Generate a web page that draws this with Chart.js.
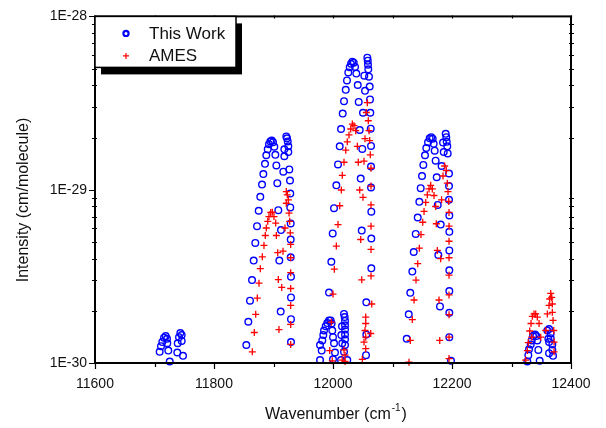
<!DOCTYPE html>
<html lang="en">
<head>
    <meta charset="UTF-8">
    <title>Intensity vs Wavenumber</title>
    <style>
        html, body {
            margin: 0;
            padding: 0;
            background: #ffffff;
        }
        #wrap {
            position: relative;
            width: 606px;
            height: 428px;
        }
    </style>
</head>
<body>
    <div id="wrap">
        <canvas id="lineChart" width="606" height="428"></canvas>
    </div>

    <script src="https://cdn.jsdelivr.net/npm/chart.js"></script>

    <script>
        // values (wavenumber in cm-1, intensity in cm/molecule)
        const thisWorkWn = [
            11708.7, 11710.9, 11713.1, 11716.0, 11718.8, 11721.0, 11721.5, 11723.2, 11725.6,
            11738.3, 11739.0, 11741.2, 11743.4, 11745.7, 11745.7, 11747.9,
            11854.3, 11857.7, 11860.5, 11863.9, 11866.7, 11869.4, 11872.3, 11875.1, 11877.8, 11880.7,
            11882.9, 11885.7, 11887.9, 11890.3, 11892.4, 11894.6, 11897.0, 11899.2, 11901.4, 11903.1,
            11904.8, 11906.4, 11908.1, 11912.6, 11909.8, 11912.1,
            11921.5, 11922.7, 11923.9, 11924.9, 11924.9, 11918.2, 11918.2, 11916.5, 11926.6, 11927.7,
            11928.2, 11928.2, 11928.9, 11928.9, 11928.9, 11929.4, 11929.4, 11929.4, 11929.4,
            11978.2, 11981.0, 11978.2, 11982.0, 11983.7, 11984.9, 11987.7, 11990.4, 11993.3, 11996.1,
            11997.7, 11998.8, 12000.0, 12001.7, 12003.4, 12000.0,
            12018.5, 12019.6, 12020.2, 12020.2, 12020.2, 12020.2, 12020.2, 12020.2, 12018.5, 12015.6,
            12014.0, 12015.1, 12024.0, 12013.5,
            11993.3, 11997.2, 11999.5, 12001.7, 12005.6, 12008.4, 12011.3, 12013.5, 12016.3, 12018.5,
            12021.4, 12023.5, 12025.7, 12028.1, 12030.3, 12032.5, 12034.8, 12037.0, 12039.2, 12041.6,
            12043.2, 12044.9, 12046.6, 12048.3, 12056.0, 12056.0, 12055.5,
            12057.7, 12058.4, 12058.8, 12059.3, 12060.5, 12052.6, 12053.8, 12061.7, 12062.2, 12062.7,
            12050.4, 12049.2, 12063.4, 12063.9, 12063.9, 12063.9, 12064.4, 12064.4, 12064.4,
            12123.9, 12127.3, 12129.9, 12133.3, 12135.7, 12139.0, 12142.4, 12145.1, 12147.4, 12149.6,
            12151.8, 12154.6, 12156.8, 12159.7, 12162.5, 12165.2, 12167.5, 12169.2, 12170.9, 12172.5,
            12174.3, 12176.0, 12181.0, 12177.0, 12179.8, 12198.3,
            12189.4, 12190.4, 12191.1, 12192.1, 12184.9, 12186.1, 12192.8, 12182.5, 12195.0, 12195.0,
            12195.0, 12195.5, 12195.5, 12195.5, 12195.5, 12195.5, 12195.5, 12195.5,
            12326.6, 12328.3, 12329.4, 12332.3, 12334.0, 12336.2, 12339.5, 12341.7, 12343.4, 12345.1,
            12347.4, 12360.2, 12363.1, 12365.9, 12365.9, 12363.1, 12368.6, 12368.6, 12369.8, 12363.1,
            12361.9
        ];
        const thisWorkInt = [
            1.16e-30, 1.25e-30, 1.32e-30, 1.40e-30, 1.43e-30, 1.38e-30, 1.30e-30, 1.18e-30, 1.02e-30,
            1.15e-30, 1.30e-30, 1.41e-30, 1.49e-30, 1.45e-30, 1.34e-30, 1.10e-30,
            1.27e-30, 1.73e-30, 2.29e-30, 3.01e-30, 3.90e-30, 4.93e-30, 6.16e-30, 7.56e-30, 9.10e-30, 1.07e-29,
            1.23e-29, 1.41e-29, 1.58e-29, 1.71e-29, 1.83e-29, 1.90e-29, 1.92e-29, 1.88e-29, 1.77e-29, 1.59e-29,
            1.38e-29, 1.09e-29, 7.62e-30, 5.85e-30, 3.90e-30, 1.98e-30,
            2.03e-29, 1.98e-29, 1.90e-29, 1.78e-29, 1.65e-29, 1.71e-29, 1.56e-29, 1.27e-29, 1.31e-29, 1.13e-29,
            9.50e-30, 7.90e-30, 6.39e-30, 5.16e-30, 4.07e-30, 3.15e-30, 2.39e-30, 1.79e-30, 1.32e-30,
            1.04e-30, 1.18e-30, 1.27e-30, 1.35e-30, 1.45e-30, 1.54e-30, 1.63e-30, 1.70e-30, 1.76e-30, 1.76e-30,
            1.69e-30, 1.54e-30, 1.41e-30, 1.30e-30, 1.15e-30, 1.05e-30,
            1.92e-30, 1.84e-30, 1.75e-30, 1.65e-30, 1.56e-30, 1.46e-30, 1.37e-30, 1.27e-30, 1.16e-30, 1.30e-30,
            1.45e-30, 1.63e-30, 1.04e-30, 1.04e-30,
            2.55e-30, 3.84e-30, 5.59e-30, 7.82e-30, 1.06e-29, 1.40e-29, 1.78e-29, 2.24e-29, 2.75e-29, 3.24e-29,
            3.77e-29, 4.27e-29, 4.75e-29, 5.09e-29, 5.33e-29, 5.48e-29, 5.41e-29, 5.11e-29, 4.68e-29, 4.02e-29,
            3.21e-29, 2.21e-29, 1.16e-29, 5.81e-30, 2.24e-30, 1.46e-30, 1.11e-30,
            5.78e-29, 5.55e-29, 5.26e-29, 4.95e-29, 4.49e-29, 4.55e-29, 3.72e-29, 3.94e-29, 3.32e-29, 2.78e-29,
            2.78e-29, 1.72e-29, 2.25e-29, 1.79e-29, 1.36e-29, 1.03e-29, 7.47e-30, 5.23e-30, 3.52e-30,
            1.38e-30, 1.91e-30, 2.54e-30, 3.37e-30, 4.37e-30, 5.56e-30, 6.91e-30, 8.51e-30, 1.02e-29, 1.20e-29,
            1.39e-29, 1.58e-29, 1.74e-29, 1.88e-29, 1.98e-29, 2.01e-29, 1.97e-29, 1.84e-29, 1.68e-29, 1.47e-29,
            1.18e-29, 8.17e-30, 6.29e-30, 4.20e-30, 2.12e-30, 1.03e-30,
            2.10e-29, 2.01e-29, 1.89e-29, 1.78e-29, 1.87e-29, 1.65e-29, 1.62e-29, 1.37e-29, 1.24e-29, 1.05e-29,
            8.74e-30, 7.10e-30, 5.71e-30, 4.46e-30, 3.43e-30, 2.60e-30, 1.95e-30, 1.41e-30,
            1.02e-30, 1.11e-30, 1.20e-30, 1.28e-30, 1.35e-30, 1.43e-30, 1.46e-30, 1.43e-30, 1.35e-30, 1.19e-30,
            1.03e-30, 1.54e-30, 1.57e-30, 1.48e-30, 1.39e-30, 1.32e-30, 1.28e-30, 1.19e-30, 1.10e-30, 1.14e-30,
            1.38e-30
        ];

        const amesWn = [
            11864.4, 11867.7, 11870.1, 11872.8, 11875.6, 11877.8, 11881.2, 11884.0, 11886.2, 11887.9,
            11890.3, 11892.4, 11895.3, 11898.0, 11900.8, 11903.7, 11904.8, 11907.1, 11908.1, 11913.8,
            11909.2, 11916.0, 11919.3, 11921.5, 11923.2, 11924.9, 11921.5, 11926.1, 11927.2, 11928.2,
            11928.9, 11928.9, 11928.9, 11928.9, 11928.9, 11928.9, 11928.9,
            11998.8, 11994.5, 11997.2, 12000.0, 12002.2, 12005.6, 12008.4, 12011.3, 12014.0, 12015.6,
            12018.5, 12021.4, 12024.0, 12026.9, 12029.8, 12032.5, 12035.3, 12038.2, 12040.9, 12042.5,
            12044.9, 12050.4, 12046.6, 12048.3, 12049.3, 12052.1, 12053.8, 12057.7, 12056.0, 12059.3,
            12060.5, 12061.7, 12062.7, 12063.9, 12063.9, 12063.9, 12063.9, 12063.9, 12063.9, 12065.1,
            12063.4,
            12018.5, 12020.2, 12015.6, 12020.2, 12055.0, 12055.0, 12053.8, 12055.0, 12052.1, 12055.0,
            12127.7, 12129.9, 12133.3, 12136.2, 12139.5, 12142.4, 12145.1, 12147.9, 12150.8, 12153.0,
            12155.8, 12158.5, 12161.4, 12164.2, 12166.9, 12169.8, 12172.5, 12173.6, 12175.3, 12181.0,
            12178.2, 12179.4, 12182.5, 12184.9, 12187.7, 12190.4, 12192.1, 12193.3, 12194.5, 12195.0,
            12195.0, 12195.0, 12195.0, 12195.0, 12195.0, 12195.0, 12195.0, 12195.0,
            12323.9, 12326.6, 12328.3, 12330.6, 12332.8, 12335.0, 12337.9, 12340.7, 12343.4, 12346.3,
            12349.1, 12357.5, 12360.2, 12363.1, 12364.2, 12365.9, 12367.6, 12368.6, 12368.6, 12369.8,
            12371.0, 12371.5, 12371.5, 12334.0
        ];
        const amesInt = [
            1.16e-30, 1.50e-30, 1.91e-30, 2.37e-30, 2.89e-30, 3.50e-30, 4.10e-30, 4.77e-30, 5.44e-30, 6.01e-30,
            6.57e-30, 7.00e-30, 7.39e-30, 7.42e-30, 7.00e-30, 6.42e-30, 5.44e-30, 4.33e-30, 3.03e-30, 2.73e-30,
            1.56e-30, 4.42e-30, 6.01e-30, 9.76e-30, 9.34e-30, 8.74e-30, 8.35e-30, 7.33e-30, 6.57e-30, 5.63e-30,
            4.83e-30, 4.05e-30, 3.32e-30, 2.69e-30, 2.15e-30, 1.67e-30, 1.28e-30,
            1.03e-30, 1.18e-30, 1.72e-30, 2.50e-30, 3.48e-30, 4.73e-30, 6.29e-30, 8.08e-30, 9.96e-30, 1.21e-29,
            1.44e-29, 1.69e-29, 1.89e-29, 2.07e-29, 2.24e-29, 2.39e-29, 2.34e-29, 2.19e-29, 1.78e-29, 1.44e-29,
            9.96e-30, 9.04e-30, 5.16e-30, 3.02e-30, 1.05e-30, 1.46e-29, 1.97e-29, 3.18e-29, 2.79e-29, 2.50e-29,
            2.19e-29, 1.92e-29, 1.59e-29, 1.33e-29, 1.05e-29, 8.17e-30, 6.16e-30, 4.52e-30, 3.18e-30, 2.19e-30,
            1.48e-30,
            1.19e-30, 1.11e-30, 1.04e-30, 1.02e-30, 1.84e-30, 1.69e-30, 1.54e-30, 1.41e-30, 1.32e-30, 1.21e-30,
            1.01e-30, 1.35e-30, 1.78e-30, 2.31e-30, 3.01e-30, 3.74e-30, 4.60e-30, 5.51e-30, 6.49e-30, 7.49e-30,
            8.45e-30, 9.34e-30, 1.01e-29, 1.06e-29, 1.01e-29, 9.26e-30, 8.00e-30, 6.36e-30, 4.46e-30, 4.00e-30,
            2.31e-30, 1.35e-30, 8.74e-30, 1.20e-29, 1.37e-29, 1.29e-29, 1.09e-29, 9.76e-30, 8.55e-30, 7.39e-30,
            6.16e-30, 5.04e-30, 4.05e-30, 3.21e-30, 2.47e-30, 1.90e-30, 1.41e-30, 1.06e-30,
            1.04e-30, 1.18e-30, 1.31e-30, 1.53e-30, 1.69e-30, 1.86e-30, 1.92e-30, 1.92e-30, 1.84e-30, 1.69e-30,
            1.41e-30, 1.54e-30, 1.92e-30, 2.15e-30, 2.34e-30, 2.52e-30, 2.39e-30, 2.19e-30, 1.96e-30, 1.76e-30,
            1.54e-30, 1.32e-30, 1.16e-30, 1.41e-30
        ];

        const xTicks = [11600, 11800, 12000, 12200, 12400];
        const yTicks = [1e-30, 1e-29, 1e-28];
        const yTickLabels = ['1E-30', '1E-29', '1E-28'];
        const seriesNames = ['This Work', 'AMES'];

        const FONT = 'Arial, "Liberation Sans", sans-serif';

        function toPoints(wn, val) {
            return wn.map((w, i) => ({ x: w, y: val[i] }));
        }

        // frame, tick marks, axis titles and the boxed legend
        const decorPlugin = {
            id: 'decor',
            afterDraw(chart) {
                const ctx = chart.ctx;
                const a = chart.chartArea;
                const xs = chart.scales.x;
                const ys = chart.scales.y;
                ctx.save();
                ctx.strokeStyle = '#000';

                // tick marks
                ctx.lineWidth = 1.2;
                ctx.beginPath();
                for (let v = 11600; v <= 12400; v += 100) {
                    const px = Math.round(xs.getPixelForValue(v)) + 0.5;
                    const big = v % 200 === 0;
                    ctx.moveTo(px, a.bottom);
                    ctx.lineTo(px, a.bottom + (big ? 6 : 4));
                    ctx.moveTo(px, a.top - 1);
                    ctx.lineTo(px, a.top + 2);
                }
                for (let d = -30; d < -28; d++) {
                    for (let m = 1; m <= 10; m++) {
                        const v = m * Math.pow(10, d);
                        const py = Math.round(ys.getPixelForValue(v)) + 0.5;
                        if (m === 1 || m === 10) {
                            ctx.moveTo(a.left - 6, py);
                            ctx.lineTo(a.left, py);
                        } else {
                            ctx.moveTo(a.left - 3, py);
                            ctx.lineTo(a.left + 2, py);
                            ctx.moveTo(a.right - 2, py);
                            ctx.lineTo(a.right + 3, py);
                        }
                    }
                }
                ctx.stroke();

                // frame
                ctx.lineWidth = 2;
                ctx.strokeRect(a.left, a.top, a.right - a.left, a.bottom - a.top);

                // axis titles
                ctx.fillStyle = '#111';
                ctx.textBaseline = 'alphabetic';
                const main = 'Wavenumber (cm';
                const sup = '-1';
                const close = ')';
                ctx.font = '16px ' + FONT;
                const w1 = ctx.measureText(main).width;
                const w3 = ctx.measureText(close).width;
                ctx.font = '10px ' + FONT;
                const w2 = ctx.measureText(sup).width;
                const tx = (a.left + a.right) / 2 - (w1 + w2 + w3) / 2 + 2;
                const ty = 419;
                ctx.font = '16px ' + FONT;
                ctx.fillText(main, tx, ty);
                ctx.font = '10px ' + FONT;
                ctx.fillText(sup, tx + w1 + 1, ty - 8);
                ctx.font = '16px ' + FONT;
                ctx.fillText(close, tx + w1 + w2 + 2, ty);

                ctx.save();
                ctx.translate(28, 200);
                ctx.rotate(-Math.PI / 2);
                ctx.textAlign = 'center';
                ctx.fillText('Intensity (cm/molecule)', 0, 0);
                ctx.restore();

                // legend with drop shadow
                const lx = a.left, ly = a.top, lw = 141, lh = 51;
                ctx.fillStyle = '#000';
                ctx.fillRect(lx + 6, ly + 7, lw, lh);
                ctx.fillStyle = '#fff';
                ctx.fillRect(lx, ly, lw, lh);
                ctx.lineWidth = 1.5;
                ctx.strokeStyle = '#000';
                ctx.strokeRect(lx, ly, lw, lh);

                ctx.strokeStyle = '#0000ff';
                ctx.lineWidth = 2.2;
                ctx.beginPath();
                ctx.arc(lx + 31, ly + 17, 2.6, 0, Math.PI * 2);
                ctx.stroke();

                ctx.strokeStyle = '#ff0000';
                ctx.lineWidth = 1.2;
                ctx.beginPath();
                ctx.moveTo(lx + 28, ly + 39.5);
                ctx.lineTo(lx + 34, ly + 39.5);
                ctx.moveTo(lx + 31, ly + 36.5);
                ctx.lineTo(lx + 31, ly + 42.5);
                ctx.stroke();

                ctx.fillStyle = '#111';
                ctx.font = '17px ' + FONT;
                ctx.textBaseline = 'middle';
                ctx.textAlign = 'left';
                ctx.fillText(seriesNames[0], lx + 54, ly + 18);
                ctx.fillText(seriesNames[1], lx + 54, ly + 40);
                ctx.restore();
            }
        };

        const ctx = document.getElementById('lineChart').getContext('2d');
        const chart = new Chart(ctx, {
            type: 'scatter',
            data: {
                datasets: [
                    {
                        label: seriesNames[0],
                        data: toPoints(thisWorkWn, thisWorkInt),
                        pointStyle: 'circle',
                        pointRadius: 3.3,
                        pointBorderWidth: 1.4,
                        borderColor: '#0000ff',
                        backgroundColor: 'rgba(0,0,0,0)',
                        clip: false,
                        order: 1
                    },
                    {
                        label: seriesNames[1],
                        data: toPoints(amesWn, amesInt),
                        pointStyle: 'cross',
                        pointRadius: 3.5,
                        pointBorderWidth: 1.3,
                        borderColor: '#ff0000',
                        backgroundColor: '#ff0000',
                        clip: false,
                        order: 0
                    }
                ]
            },
            options: {
                responsive: false,
                animation: false,
                layout: { padding: { left: 0, right: 35, top: 13, bottom: 0 } },
                plugins: {
                    legend: { display: false },
                    tooltip: { enabled: false }
                },
                scales: {
                    x: {
                        type: 'linear',
                        min: 11600,
                        max: 12400,
                        grid: { display: false, drawTicks: false },
                        border: { display: false },
                        afterBuildTicks: s => { s.ticks = xTicks.map(v => ({ value: v })); },
                        afterFit: s => { s.height = 65; },
                        ticks: {
                            padding: 13,
                            color: '#111',
                            font: { family: FONT, size: 14, weight: 'normal' },
                            callback: v => String(v)
                        }
                    },
                    y: {
                        type: 'logarithmic',
                        min: 1e-30,
                        max: 1e-28,
                        grid: { display: false, drawTicks: false },
                        border: { display: false },
                        afterBuildTicks: s => { s.ticks = yTicks.map(v => ({ value: v })); },
                        afterFit: s => { s.width = 95; },
                        ticks: {
                            autoSkip: false,
                            padding: 8,
                            color: '#111',
                            major: { enabled: false },
                            font: { family: FONT, size: 14, weight: 'normal' },
                            callback: (v, i) => yTickLabels[i]
                        }
                    }
                }
            },
            plugins: [decorPlugin]
        });
    </script>
</body>
</html>
